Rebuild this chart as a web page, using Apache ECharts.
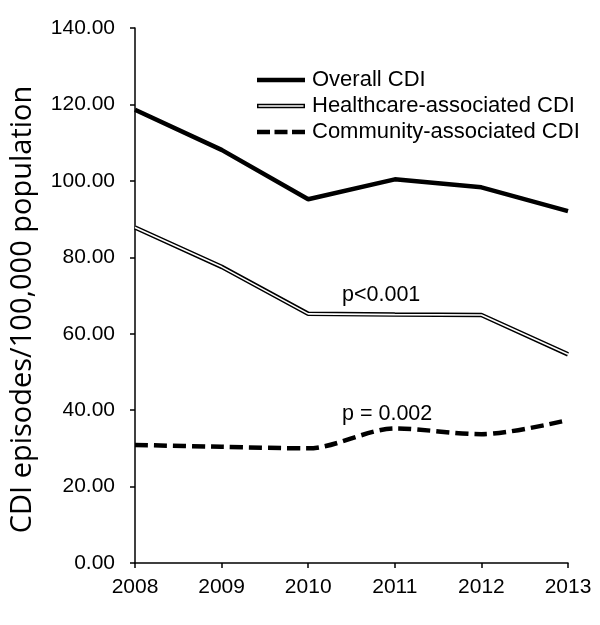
<!DOCTYPE html>
<html><head><meta charset="utf-8">
<script src="https://cdn.jsdelivr.net/npm/echarts@6/dist/echarts.min.js"></script>
<style>html,body{margin:0;padding:0;background:#fff}#c{width:600px;height:625px}</style>
</head><body><div id="c"></div>
<script>
const years = ['2008','2009','2010','2011','2012','2013'];
const overall = [118.6, 108.1, 95.2, 100.4, 98.3, 92.1];
const healthcare = [87.8, 77.5, 65.2, 65.0, 64.9, 54.6];
const community = [30.9, 30.4, 30.0, 35.2, 33.7, 37.4];
const yTicks = [0, 20, 40, 60, 80, 100, 120, 140];

const font = 'Liberation Sans, Arial, sans-serif';
const chart = echarts.init(document.getElementById('c'));
chart.setOption({
  animation: false,
  backgroundColor: '#fff',
  textStyle: {fontFamily: font},
  grid: {left: 131, right: 32, top: 28, bottom: 62},
  legend: {
    left: 257, top: 69, orient: 'vertical', itemGap: 4, itemWidth: 48, itemHeight: 22, padding: 0,
    textStyle: {fontSize: 22, color: '#000', fontFamily: font, padding: [0, 0, 0, 2]},
    data: [
      {name: 'Overall CDI', icon: 'path://M0,0L48,0L48,4.5L0,4.5Z'},
      {name: 'Healthcare-associated CDI', icon: 'path://M0,0L48,0L48,4.5L0,4.5Z'},
      {name: 'Community-associated CDI', icon: 'path://M0,0L13,0L13,4.5L0,4.5ZM17.5,0L30.5,0L30.5,4.5L17.5,4.5ZM35,0L48,0L48,4.5L35,4.5Z'}
    ],
    selectedMode: false
  },
  xAxis: {
    type: 'category', data: years, boundaryGap: false,
    axisLine: {lineStyle: {color: '#000', width: 1.5}},
    axisTick: {show: true, length: 5, lineStyle: {color: '#000', width: 1.5}},
    axisLabel: {fontSize: 21, color: '#000', margin: 14}
  },
  yAxis: {
    type: 'value', min: yTicks[0], max: yTicks[yTicks.length - 1], interval: 20,
    name: 'CDI episodes/100,000 population', nameLocation: 'middle', nameGap: 98,
    nameTextStyle: {fontSize: 29, color: '#000', fontFamily: 'Open Sans, sans-serif', padding: [0, 28, 0, 0]},
    axisLine: {show: true, lineStyle: {color: '#000', width: 1.5}},
    axisTick: {show: true, length: 5, lineStyle: {color: '#000', width: 1.5}},
    axisLabel: {fontSize: 21, color: '#000', margin: 20, formatter: v => v.toFixed(2)},
    splitLine: {show: false}
  },
  series: [
    {name: 'Overall CDI', type: 'line', data: overall, symbol: 'none',
     itemStyle: {color: '#000'}, lineStyle: {color: '#000', width: 4.5}},
    {name: 'Healthcare-associated CDI', type: 'line', data: healthcare, symbol: 'none',
     itemStyle: {color: '#000'}, lineStyle: {color: '#000', width: 4.5}},
    {name: 'hc-inner', type: 'line', data: healthcare, symbol: 'none',
     itemStyle: {color: '#fff'}, lineStyle: {color: '#fff', width: 1.6}, z: 3},
    {name: 'Community-associated CDI', type: 'line', data: community, symbol: 'none', smooth: 0.3,
     itemStyle: {color: '#000'}, lineStyle: {color: '#000', width: 4.5, type: [13, 6]}}
  ],
  graphic: [
    {type: 'rect', left: 258.5, top: 105.2, shape: {width: 45, height: 1.6}, style: {fill: '#fff'}, z: 100},
    {type: 'text', left: 342, top: 284, style: {text: 'p<0.001', fontSize: 21.5, fill: '#000', fontFamily: font}},
    {type: 'text', left: 342, top: 403, style: {text: 'p = 0.002', fontSize: 21.5, fill: '#000', fontFamily: font}}
  ]
});
</script>
</body></html>
